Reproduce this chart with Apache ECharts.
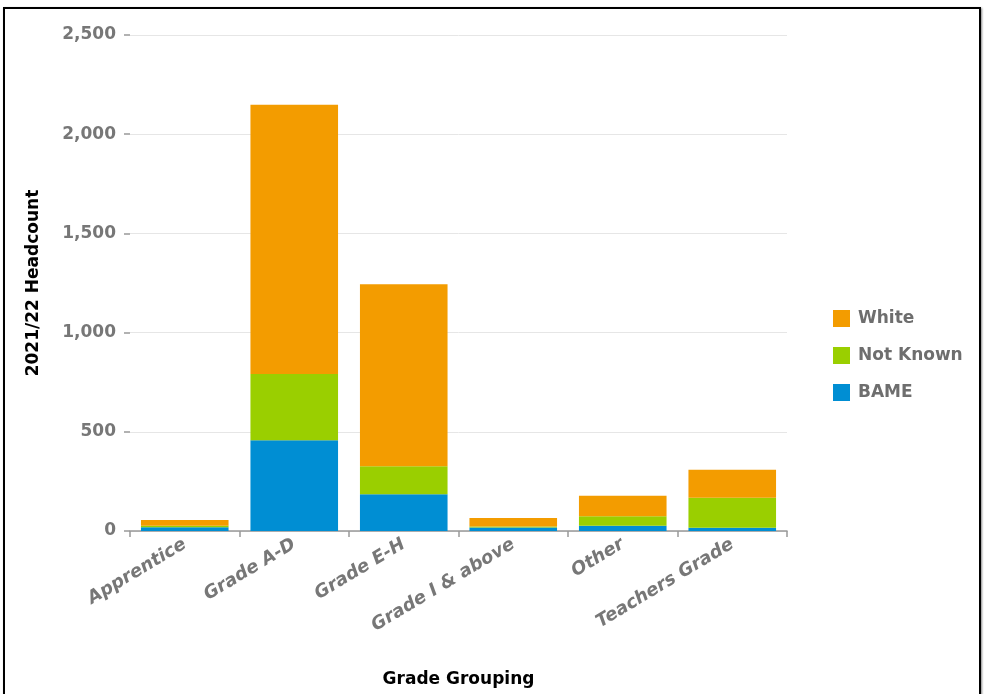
<!DOCTYPE html>
<html>
<head>
<meta charset="utf-8">
<script src="https://cdn.jsdelivr.net/npm/echarts@6/dist/echarts.min.js"></script>
<style>
html,body{margin:0;padding:0;background:#fff;}
#frame{position:absolute;left:3px;top:7px;width:978px;height:700px;border:2px solid #000;box-sizing:border-box;box-shadow:1px 1px 2px #888;}
#c{position:absolute;left:0;top:0;width:985px;height:694px;}
</style>
</head>
<body>
<div id="frame"></div>
<div id="c"></div>
<script>
var categories = ['Apprentice', 'Grade A-D', 'Grade E-H', 'Grade I & above', 'Other', 'Teachers Grade'];
var bame = [19, 458, 185, 18, 26, 16];
var notKnown = [7, 333, 141, 5, 48, 151];
var white = [30, 1357, 918, 43, 104, 142];
var yTicks = [0, 500, 1000, 1500, 2000, 2500];

var chart = echarts.init(document.getElementById('c'), null, {renderer: 'canvas'});
var font = '"DejaVu Sans", Verdana, sans-serif';
function series(name, data, color) {
  return {
    name: name, type: 'bar', stack: 'total', data: data,
    barCategoryGap: '20%',
    itemStyle: {color: color},
    emphasis: {disabled: true}
  };
}
chart.setOption({
  animation: false,
  textStyle: {fontFamily: font},
  grid: {left: 130, right: 198, top: 35, bottom: 163, containLabel: false},
  legend: {
    orient: 'vertical', left: 828, top: 305,
    data: ['White', 'Not Known', 'BAME'],
    itemWidth: 17, itemHeight: 17, itemGap: 20,
    icon: 'rect',
    textStyle: {color: '#6e6e6e', fontSize: 17, fontWeight: 'bold', fontFamily: font, padding: [0, 0, 0, 3]}
  },
  xAxis: {
    type: 'category', data: categories,
    name: 'Grade Grouping', nameLocation: 'middle', nameGap: 140,
    nameTextStyle: {color: '#000', fontSize: 17, fontWeight: 'bold', fontFamily: font},
    axisLine: {show: true, lineStyle: {color: '#999', width: 1.5}},
    axisTick: {show: true, length: 6, alignWithLabel: false, lineStyle: {color: '#999', width: 1.5}},
    axisLabel: {rotate: 31, color: '#777', fontSize: 18, fontWeight: 'bold', fontStyle: 'italic', fontFamily: font, margin: 12}
  },
  yAxis: {
    type: 'value', min: 0, max: 2500, interval: 500,
    name: '2021/22 Headcount', nameLocation: 'middle', nameGap: 88,
    nameTextStyle: {color: '#000', fontSize: 17, fontWeight: 'bold', fontFamily: font},
    axisLine: {show: false},
    axisTick: {show: true, length: 6, lineStyle: {color: '#999', width: 1.5}},
    splitLine: {lineStyle: {color: '#e6e6e6', width: 1}},
    axisLabel: {
      color: '#777', fontSize: 17, fontWeight: 'bold', fontFamily: font, margin: 14,
      formatter: function (v) { return yTicks.indexOf(v) >= 0 ? v.toLocaleString('en-US') : ''; }
    }
  },
  series: [
    series('BAME', bame, '#008ed3'),
    series('Not Known', notKnown, '#9acf00'),
    series('White', white, '#f39c00')
  ]
});
</script>
</body>
</html>
